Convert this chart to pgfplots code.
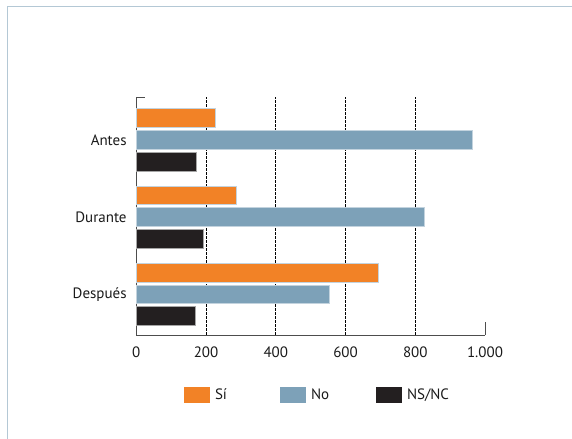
\documentclass[border=0pt]{standalone}
\usepackage{fontspec}
\setmainfont{PT Sans}
\usepackage{pgfplots}
\pgfplotsset{compat=1.18}
\definecolor{cOrange}{HTML}{F28226}
\definecolor{cBlue}{HTML}{7DA1B8}
\definecolor{cBlack}{HTML}{231F20}
\definecolor{cBorder}{HTML}{C3D3DE}
\definecolor{cFrame}{HTML}{B4C8D5}
\definecolor{cAxis}{HTML}{4D4D4D}
\definecolor{cText}{HTML}{1A1A1A}
\begin{document}
\begin{tikzpicture}[font=\fontsize{15bp}{18bp}\selectfont, text=cText]
\useasboundingbox (0,0) rectangle (572bp,439bp);
\draw[cFrame, line width=1.6bp] (7.6bp,-20bp) -- (7.6bp,432.4bp) -- (600bp,432.4bp);
\begin{axis}[
  at={(136.3bp,104bp)}, anchor=south west,
  scale only axis, width=348.7bp, height=238bp,
  clip=false,
  xbar, xmin=0, xmax=1000, ymin=-0.523, ymax=2.556,
  axis x line=bottom, axis y line=left,
  axis line style={draw=cAxis, line width=0.9bp, -},
  major tick length=0pt,
  xtick={0,200,400,600,800,1000},
  /pgf/number format/assume math mode=true,
  /pgf/number format/1000 sep={.},
  xticklabel style={inner sep=0pt, anchor=north, yshift=-11.5bp},
  ytick={0,1,2}, yticklabels={Después,Durante,Antes},
  yticklabel style={inner sep=0pt, anchor=east, xshift=-9.5bp},
  extra x ticks={200,400,600,800},
  extra x tick labels={},
  extra x tick style={grid=major, major grid style={black, line width=0.6bp, dash pattern=on 2.5bp off 1.5bp}},
  bar width=18.8bp,
  legend columns=3,
  legend style={draw=none, fill=none, inner sep=0pt, outer sep=0pt,
    at={(0.1368,-0.2508)}, anchor=west,
    nodes={inner sep=0pt},
    /tikz/every even column/.style={column sep=0pt},
    /tikz/every odd column/.style={column sep=0pt}},
  legend image code/.code={\path[#1,draw=none] (0bp,-8bp) rectangle (26bp,8bp);},
]
\addplot[fill=cOrange, draw=cBorder, line width=1bp, bar shift=21.7bp] coordinates {(228,2) (288,1) (694,0)};
\addplot[fill=cBlue, draw=cBorder, line width=1bp, bar shift=0bp] coordinates {(965,2) (826,1) (555,0)};
\addplot[fill=cBlack, draw=gray!70, line width=1bp, bar shift=-21.7bp] coordinates {(173,2) (192,1) (169,0)};
\addlegendentry{\makebox[70bp][l]{\hspace{5bp}Sí}}
\addlegendentry{\makebox[70bp][l]{\hspace{5bp}No}}
\addlegendentry{\makebox[70bp][l]{\hspace{5bp}NS/NC}}
\draw[cAxis, line width=0.9bp] (rel axis cs:0,1) -- ++(8.7bp,0bp);
\draw[cAxis, line width=0.9bp] (rel axis cs:1,0) -- ++(0bp,13.3bp);
\end{axis}
\end{tikzpicture}
\end{document}
